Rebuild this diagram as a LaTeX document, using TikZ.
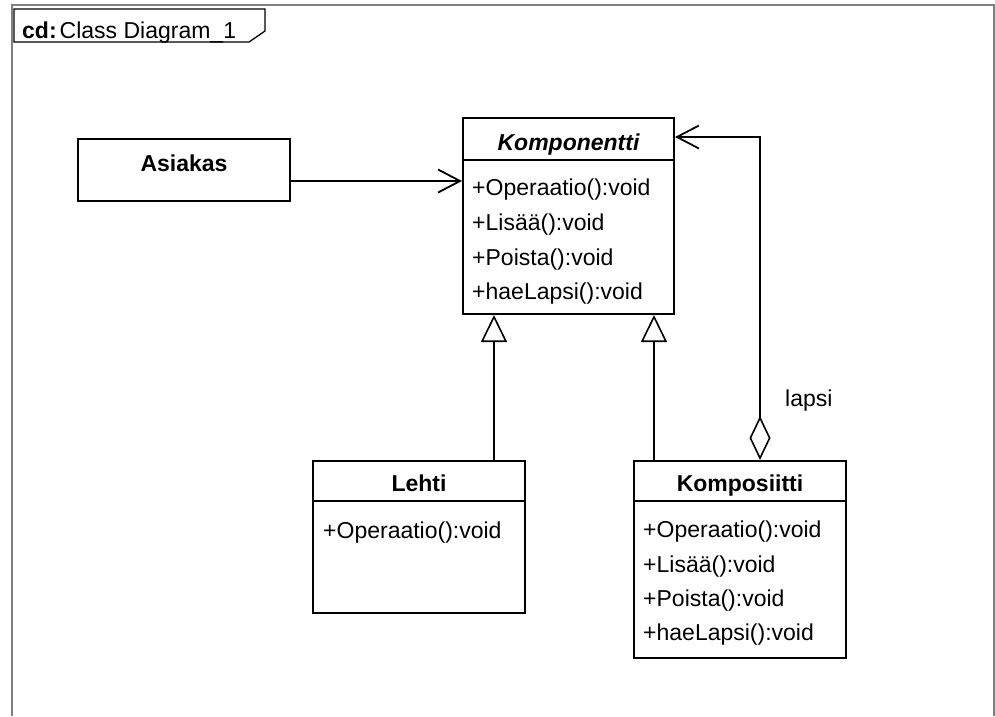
\documentclass[tikz,border=0pt]{standalone}
\usepackage{fontspec}
\setmainfont{Liberation Sans}
\usetikzlibrary{arrows.meta}
\definecolor{framegray}{RGB}{128,128,128}
\begin{document}
\begin{tikzpicture}[x=1pt,y=-1pt,
  font=\fontsize{23}{27}\selectfont,
  classbox/.style={draw, line width=2pt, inner sep=0pt},
  member/.style={anchor=base west, inner sep=0pt},
  cname/.style={anchor=base, inner sep=0pt, font=\fontsize{23}{27}\selectfont\bfseries},
  conn/.style={line width=1.8pt},
  nav/.style={-{Straight Barb[length=22pt,width=23pt,line width=1.8pt]}},
  gen/.style={-{Triangle[open,length=27pt,width=26pt,line width=1.6pt]}},
  agg/.style={{Diamond[open,length=44pt,width=21pt,line width=1.6pt]}-{Straight Barb[length=22pt,width=23pt,line width=1.8pt]}},
]
\useasboundingbox (0,0) rectangle (995,716);
% frame
\draw[framegray, line width=2pt] (12,716) -- (12,5) -- (994,5) -- (994,716);
\draw[line width=1.3pt] (14,9) -- (265,9) -- (265,31) -- (249,42) -- (14,42) -- cycle;
\node[member] (tabtext) at (22,38.5) {\textbf{cd:}\hspace{3pt}Class Diagram\_1};

% classes
\node[classbox, minimum width=211pt, minimum height=196pt] (komp) at (568.5,216) {};
\draw[line width=2pt] ([yshift=-43pt]komp.north west) -- ([yshift=-43pt]komp.north east);
\node[cname, font=\fontsize{23}{27}\selectfont\bfseries\itshape] (kompname) at (568.5,150) {Komponentti};
\node[member] (k1) at (472,195) {+Operaatio():void};
\node[member] (k2) at (472,230) {+Lisää():void};
\node[member] (k3) at (472,265) {+Poista():void};
\node[member] (k4) at (472,299) {+haeLapsi():void};

\node[classbox, minimum width=212pt, minimum height=62pt] (asiakas) at (184,170) {};
\node[cname] (asname) at (184,171) {Asiakas};

\node[classbox, minimum width=212pt, minimum height=152pt] (lehti) at (419,537) {};
\draw[line width=2pt] ([yshift=-41pt]lehti.north west) -- ([yshift=-41pt]lehti.north east);
\node[cname] (lename) at (419,491) {Lehti};
\node[member] (l1) at (323,538) {+Operaatio():void};

\node[classbox, minimum width=212pt, minimum height=197pt] (kompo) at (740,559.5) {};
\draw[line width=2pt] ([yshift=-41pt]kompo.north west) -- ([yshift=-41pt]kompo.north east);
\node[cname] (koname) at (740,491) {Komposiitti};
\node[member] (c1) at (643,537) {+Operaatio():void};
\node[member] (c2) at (643,572) {+Lisää():void};
\node[member] (c3) at (643,606) {+Poista():void};
\node[member] (c4) at (643,640) {+haeLapsi():void};

% connectors
\coordinate (a1) at (0,181);
\draw[conn,nav] (asiakas.east |- a1) -- (komp.west |- a1);
\coordinate (g1) at (494,0);
\draw[gen, line width=2.8pt] (lehti.north -| g1) -- (komp.south -| g1);
\coordinate (g2) at (654,0);
\draw[gen, line width=2.1pt] (kompo.north -| g2) -- (komp.south -| g2);
\coordinate (r1) at (760,137);
\draw[conn,agg] (kompo.north -| r1) -- (r1) -- (komp.east |- r1);
\node[member] (lapsi) at (785,406) {lapsi};
\end{tikzpicture}
\end{document}
